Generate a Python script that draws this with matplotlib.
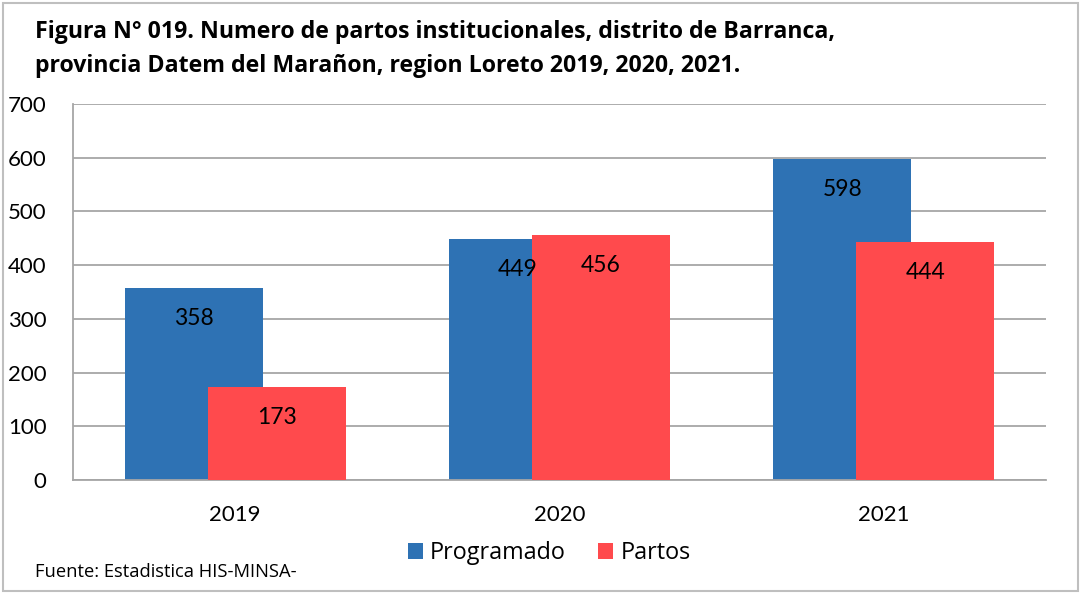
import numpy as np
import matplotlib
matplotlib.use("Agg")
from matplotlib import pyplot as plt
from matplotlib.patches import Rectangle

plt.rcParams['font.family'] = ['Lato', 'DejaVu Sans']

years = ['2019', '2020', '2021']
programado = [358, 449, 598]
partos = [173, 456, 444]
y_ticks = [0, 100, 200, 300, 400, 500, 600, 700]

blue = '#2E72B4'
red = '#FF4A4D'

fig = plt.figure(figsize=(10.81, 5.94), dpi=100)
ax = fig.add_axes([0.0675, 0.1919, 0.9001, 0.633])

x = np.arange(len(years))
w = 0.426
off = 0.128
b1 = ax.bar(x - off, programado, w, color=blue, label='Programado', zorder=2)
b2 = ax.bar(x + off, partos, w, color=red, label='Partos', zorder=3)

# value labels, inside end
for bars, vals in [(b1, programado), (b2, partos)]:
    for r, v in zip(bars, vals):
        ax.annotate(str(v), (r.get_x() + r.get_width() / 2, v),
                    xytext=(0, -22), textcoords='offset points',
                    ha='center', va='center', fontsize=16.5, zorder=5)

ax.set_xlim(-0.5, 2.5)
ax.set_ylim(0, 700)
ax.set_yticks(y_ticks)
ax.set_xticks(x)
ax.set_xticklabels(years)
ax.tick_params(axis='both', length=0, labelsize=16)
ax.tick_params(axis='y', pad=19)
ax.tick_params(axis='x', pad=18)
ax.yaxis.grid(True, color='#A6A6A6', linewidth=1.3, zorder=0)
ax.set_axisbelow(True)
for s in ['top', 'right']:
    ax.spines[s].set_visible(False)
for s in ['left', 'bottom']:
    ax.spines[s].set_color('#A6A6A6')
    ax.spines[s].set_linewidth(1.3)

title_font = ['Open Sans', 'DejaVu Sans']
fig.text(35 / 1081, 1 - 32 / 594, 'Figura N° 019. Numero de partos institucionales, distrito de Barranca,',
         fontsize=16.7, fontweight='bold', va='center', ha='left', family=title_font)
fig.text(35 / 1081, 1 - 66 / 594, 'provincia Datem del Marañon, region Loreto 2019, 2020, 2021.',
         fontsize=16.7, fontweight='bold', va='center', ha='left', family=title_font)

fig.legend(loc='center', bbox_to_anchor=(549 / 1081, 1 - 553 / 594), ncol=2, frameon=False,
           prop={'family': title_font, 'size': 16.8}, handlelength=0.65, handleheight=0.65,
           handletextpad=0.3, columnspacing=1.4)

fig.text(35 / 1081, 1 - 572 / 594, 'Fuente: Estadistica HIS-MINSA-', fontsize=13.2, va='center', ha='left',
         family=title_font)

fig.add_artist(Rectangle((0.003, 0.005), 0.994, 0.99, transform=fig.transFigure,
                         fill=False, edgecolor='#BFBFBF', linewidth=1.5))

plt.savefig('out.png', dpi=100)
